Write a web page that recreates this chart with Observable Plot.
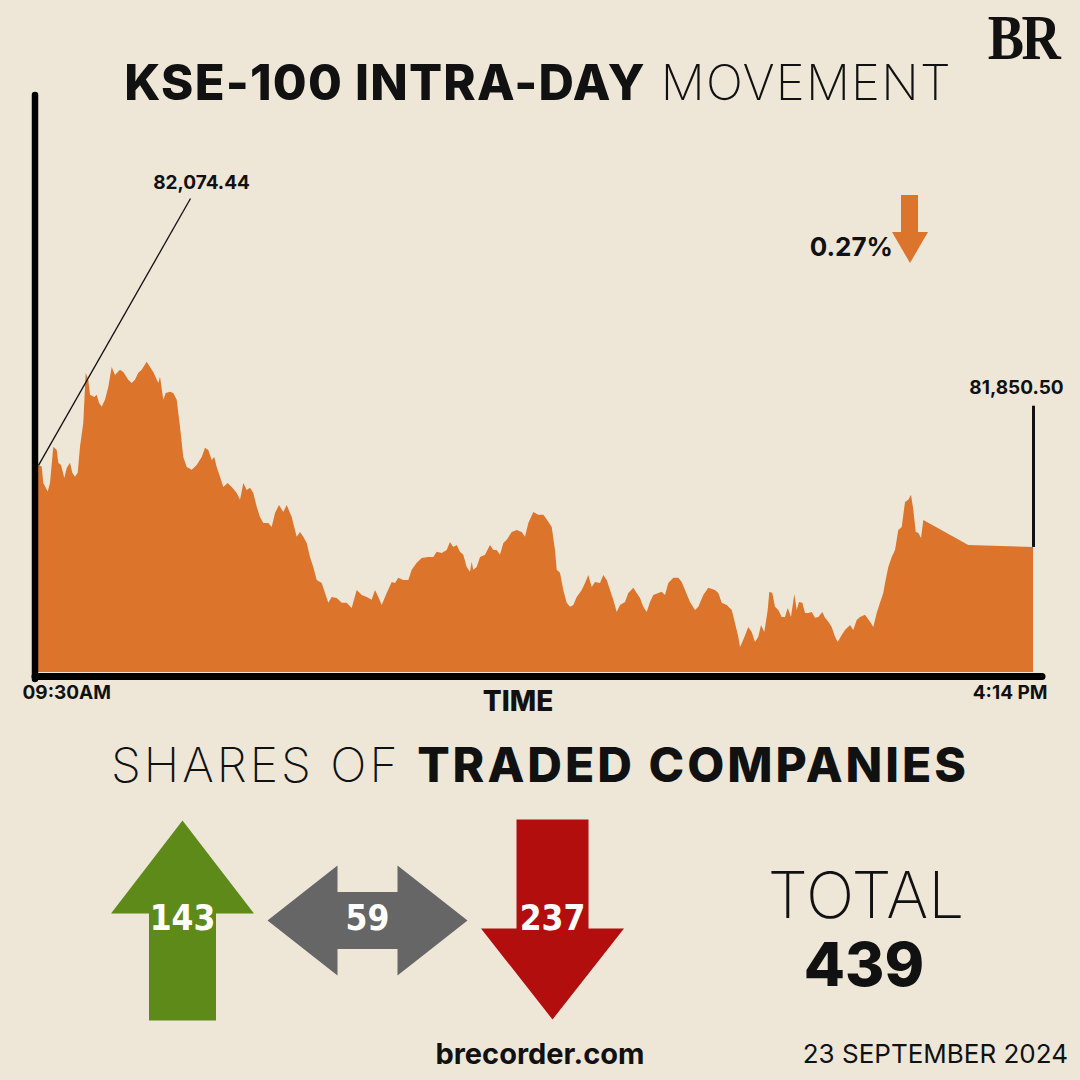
<!DOCTYPE html>
<html>
<head>
<meta charset="utf-8">
<script src="https://cdn.jsdelivr.net/npm/d3@7"></script>
<script src="https://cdn.jsdelivr.net/npm/@observablehq/plot@0.6"></script>
<style>
  html, body { margin: 0; padding: 0; background: #EEE7D8; }
  #page { position: relative; width: 1080px; height: 1080px; background: #EEE7D8; overflow: hidden; }
  #page > * { position: absolute; left: 0; }
</style>
</head>
<body>
<div id="page"></div>
<script>
// ---------------- DATA ----------------
const times = [
"09:30:00","09:31:30","09:32:09","09:33:56","09:34:52","09:36:13","09:37:36","09:38:15","09:39:20","09:40:41",
"09:41:39","09:43:00","09:43:56","09:45:01","09:46:07","09:47:03","09:48:23","09:49:22","09:50:25","09:51:07",
"09:52:52","09:53:50","09:54:46","09:55:52","09:57:12","09:58:32","09:59:55","10:01:16","10:03:17","10:04:38",
"10:06:40","10:08:02","10:09:23","10:10:43","10:12:06","10:14:08","10:15:29","10:16:49","10:18:51","10:19:32",
"10:20:53","10:21:51","10:23:36","10:24:56","10:26:19","10:27:40","10:29:00","10:30:23","10:32:25","10:34:26",
"10:36:28","10:37:49","10:39:09","10:40:32","10:41:35","10:42:33","10:43:54","10:45:14","10:47:01","10:48:39",
"10:50:41","10:52:01","10:53:22","10:54:44","10:56:05","10:57:25","10:58:48","11:00:08","11:01:29","11:03:31",
"11:04:53","11:06:14","11:07:51","11:09:36","11:10:59","11:13:01","11:15:02","11:16:23","11:17:43","11:19:06",
"11:20:26","11:21:47","11:23:10","11:25:11","11:26:32","11:27:52","11:29:15","11:31:17","11:33:19","11:35:20",
"11:37:22","11:39:24","11:41:26","11:43:28","11:45:29","11:46:50","11:48:10","11:49:33","11:51:35","11:53:37",
"11:54:57","11:56:17","11:58:19","12:00:21","12:01:44","12:03:46","12:05:47","12:08:28","12:10:30","12:11:53",
"12:13:55","12:15:56","12:17:17","12:18:37","12:20:00","12:21:20","12:22:41","12:24:04","12:25:24","12:26:05",
"12:26:44","12:28:07","12:29:28","12:31:30","12:33:32","12:34:52","12:36:15","12:37:35","12:38:56","12:40:19",
"12:42:20","12:44:22","12:46:24","12:47:44","12:49:05","12:51:07","12:53:08","12:55:10","12:55:52","12:57:12",
"12:58:35","12:59:55","13:00:37","13:01:57","13:03:17","13:04:40","13:06:01","13:07:21","13:08:44","13:10:46",
"13:12:06","13:13:26","13:14:49","13:16:10","13:18:11","13:19:32","13:20:55","13:22:15","13:23:35","13:24:58",
"13:26:19","13:28:20","13:29:41","13:31:43","13:33:05","13:34:26","13:35:46","13:37:09","13:38:29","13:39:50",
"13:41:52","13:43:14","13:44:35","13:45:55","13:47:57","13:49:59","13:51:22","13:52:42","13:54:44","13:56:46",
"13:58:06","14:00:08","14:02:10","14:04:53","14:06:13","14:07:36","14:09:38","14:11:40","14:13:00","14:14:20",
"14:15:02","14:16:22","14:18:24","14:19:47","14:21:07","14:22:28","14:23:34","14:24:54","14:26:17","14:26:56",
"14:28:09","14:29:14","14:30:35","14:31:58","14:33:18","14:34:24","14:35:44","14:37:05","14:38:04","14:38:59",
"14:40:20","14:41:26","14:42:46","14:44:09","14:45:29","14:46:50","14:48:27","14:49:33","14:50:53","14:52:16",
"14:53:37","14:54:42","14:56:20","14:57:40","14:59:42","15:01:02","15:02:25","15:03:46","15:05:47","15:07:49",
"15:09:10","15:10:32","15:11:53","15:13:13","15:13:55","15:15:15","15:16:38","15:17:58","15:19:19","15:20:41",
"15:22:02","15:23:22","15:24:28","15:25:24","15:26:23","15:27:26","15:28:32","15:29:28","15:47:44","16:14:00"
];
const values = [
82074.44,82070,82025,82002,82025,82124,82115,82080,82074,82039,
82066,82080,82053,82042,82053,82124,82189,82326,82307,82266,
82260,82266,82244,82233,82252,82287,82342,82320,82334,82328,
82307,82298,82307,82326,82334,82356,82342,82328,82298,82315,
82252,82271,82274,82271,82252,82178,82096,82069,82061,82074,
82096,82121,82115,82088,82096,82069,82042,82014,82025,82014,
81998,81979,82025,82006,82012,81998,81960,81932,81916,81916,
81905,81943,81965,81946,81965,81932,81878,81891,81878,81861,
81823,81796,81760,81752,81725,81698,81714,81711,81698,81698,
81684,81733,81719,81714,81706,81733,81714,81692,81725,81755,
81752,81766,81760,81760,81788,81807,81820,81823,81823,81837,
81834,81842,81864,81850,81856,81837,81829,81796,81782,81810,
81788,81796,81823,81829,81856,81842,81842,81829,81861,81870,
81891,81897,81891,81878,81916,81946,81938,81938,81932,81919,
81905,81842,81788,81780,81733,81698,81687,81692,81714,81733,
81752,81774,81741,81755,81752,81774,81760,81733,81706,81673,
81692,81700,81725,81739,81725,81711,81687,81673,81700,81719,
81725,81728,81719,81752,81766,81766,81755,81733,81700,81678,
81687,81719,81739,81733,81725,81698,81692,81678,81643,81605,
81577,81597,81632,81618,81591,81605,81637,81618,81678,81728,
81725,81687,81678,81659,81659,81684,81659,81722,81678,81700,
81698,81670,81670,81673,81657,81659,81673,81657,81646,81632,
81605,81591,81610,81624,81637,81624,81651,81659,81665,81646,
81632,81670,81698,81725,81752,81796,81823,81842,81897,81905,
81973,81979,81993,81952,81891,81889,81875,81924,81856,81850.50
];
const openValue = 82074.44;   // start label
const closeValue = 81850.50;  // closing label
const startLabel = "09:30AM";
const endLabel = "4:14 PM";

const categories = ["Advanced", "Unchanged", "Declined"];
const counts = [143, 59, 237];
const categoryColors = ["#5E8A1A", "#666666", "#B20E0E"];

const dateLabel = "23 SEPTEMBER 2024";

// ---------------- HELPERS ----------------
const ORANGE = "#DC742C";
const FONT = "Inter, 'Open Sans', sans-serif";
function parseTime(s) {
  const [h, m, sec = 0] = s.split(":").map(Number);
  return new Date(Date.UTC(2024, 8, 23, h, m, sec));
}
const series = times.map((t, i) => ({t: parseTime(t), v: values[i]}));
const t0 = series[0].t, t1 = series[series.length - 1].t;
const yBase = 81509, yTop = 83098;
const fmt = d3.format(",.2f");
const page = document.getElementById("page");

// ---------------- MAIN AREA CHART ----------------
const openAnno = [{x1: t0, y1: openValue, x2: parseTime("10:31:43"), y2: 82803, tx: parseTime("10:36:11"), ty: 82845, label: fmt(openValue)}];
const closeAnno = [{x: t1, y1: closeValue, y2: 82236, tx: parseTime("16:07:06"), ty: 82285, label: fmt(closeValue)}];

const main = Plot.plot({
  width: 1080, height: 720,
  marginLeft: 38, marginRight: 47, marginTop: 90, marginBottom: 48,
  style: {background: "transparent", fontFamily: FONT, overflow: "visible"},
  x: {type: "utc", domain: [t0, t1], axis: null},
  y: {domain: [yBase, yTop], axis: null},
  marks: [
    Plot.areaY(series, {x: "t", y1: yBase, y2: "v", fill: ORANGE}),
    Plot.link(openAnno, {x1: "x1", y1: "y1", x2: "x2", y2: "y2", stroke: "#111", strokeWidth: 1.3}),
    Plot.text(openAnno, {x: "tx", y: "ty", text: "label", fontSize: 19, fontWeight: 700, fill: "#111"}),
    Plot.ruleX(closeAnno, {x: "x", y1: "y1", y2: "y2", stroke: "#111", strokeWidth: 3}),
    Plot.text(closeAnno, {x: "tx", y: "ty", text: "label", fontSize: 19, fontWeight: 700, fill: "#111"}),
    Plot.ruleX([t0], {stroke: "#000", strokeWidth: 6.5, dx: -3.5, insetTop: 5, insetBottom: -7, strokeLinecap: "round"}),
    Plot.ruleY([yBase], {stroke: "#000", strokeWidth: 7, dy: 4, insetLeft: -3, insetRight: -9, strokeLinecap: "round"}),
    Plot.text([{t: t0, label: startLabel}], {x: "t", text: "label", frameAnchor: "bottom", textAnchor: "start", dx: -16, dy: 26, fontSize: 19, fontWeight: 700, fill: "#111"}),
    Plot.text([{t: t1, label: endLabel}], {x: "t", text: "label", frameAnchor: "bottom", textAnchor: "end", dx: 14, dy: 26, fontSize: 19, fontWeight: 700, fill: "#111"})
  ]
});
main.style.top = "0px";
page.appendChild(main);

// ---------------- ARROWS (counts) ----------------
const arrowSymbols = [
  {draw(c) { c.moveTo(0,-100); c.lineTo(71.5,-7); c.lineTo(33.5,-7); c.lineTo(33.5,100); c.lineTo(-33.5,100); c.lineTo(-33.5,-7); c.lineTo(-71.5,-7); c.closePath(); }},
  {draw(c) { c.moveTo(-100,0); c.lineTo(-30,-55); c.lineTo(-30,-28.5); c.lineTo(30,-28.5); c.lineTo(30,-55); c.lineTo(100,0); c.lineTo(30,55); c.lineTo(30,28.5); c.lineTo(-30,28.5); c.lineTo(-30,55); c.closePath(); }},
  {draw(c) { c.moveTo(-36,-101); c.lineTo(36,-101); c.lineTo(36,8); c.lineTo(71.5,8); c.lineTo(0,99); c.lineTo(-71.5,8); c.lineTo(-36,8); c.closePath(); }}
];
const rows = categories.map((c, i) => ({cat: c, n: counts[i]}));
const arrows = Plot.plot({
  width: 1080, height: 240, margin: 0,
  style: {background: "transparent", overflow: "visible"},
  x: {type: "point", domain: categories, range: [182, 552], padding: 0, axis: null},
  marks: [
    ...rows.map((r, i) => Plot.dot([r], {x: "cat", symbol: arrowSymbols[i], fill: categoryColors[i], stroke: null})),
    Plot.text(rows, {x: "cat", text: "n", fill: "white", fontSize: 35, fontWeight: 700, dy: -2,
      fontFamily: "'DejaVu Sans Condensed', 'Liberation Sans Narrow', sans-serif"})
  ]
});
arrows.style.top = "800px";
page.appendChild(arrows);

// ---------------- TEXT OVERLAY ----------------
const total = d3.sum(counts);
const pct = Math.abs((closeValue - openValue) / openValue * 100).toFixed(2) + "%";
const svg = d3.create("svg").attr("width", 1080).attr("height", 1080)
  .style("top", "0px").style("pointer-events", "none").style("font-family", FONT);

const title = svg.append("text").attr("x", 538).attr("y", 100).attr("text-anchor", "middle")
  .attr("font-size", 49).attr("letter-spacing", 1.2).attr("fill", "#111");
title.append("tspan").attr("font-weight", 800).text("KSE-100 INTRA-DAY");
title.append("tspan").attr("font-weight", 200).text(" MOVEMENT");

svg.append("text").attr("x", 1023).attr("y", 59).attr("text-anchor", "middle")
  .attr("font-family", "'Liberation Serif', 'DejaVu Serif', serif").attr("font-weight", 700)
  .attr("font-size", 64).attr("fill", "#111")
  .attr("transform", "translate(1023,0) scale(0.85,1) translate(-1023,0)")
  .attr("letter-spacing", -3).text("BR");

svg.append("text").attr("x", 893).attr("y", 256).attr("text-anchor", "end")
  .attr("font-size", 26).attr("font-weight", 700).attr("fill", "#111").text(pct);
svg.append("path").attr("d", "M901,195 L918,195 L918,232 L928,232 L910,263 L892,232 L901,232 Z").attr("fill", ORANGE);

svg.append("text").attr("x", 518).attr("y", 711).attr("text-anchor", "middle")
  .attr("font-size", 28).attr("font-weight", 800).attr("fill", "#111").text("TIME");

const shares = svg.append("text").attr("x", 540).attr("y", 782).attr("text-anchor", "middle")
  .attr("font-size", 48).attr("letter-spacing", 3).attr("fill", "#111");
shares.append("tspan").attr("font-weight", 200).text("SHARES OF ");
shares.append("tspan").attr("font-weight", 800).text("TRADED COMPANIES");

svg.append("text").attr("x", 866).attr("y", 918).attr("text-anchor", "middle")
  .attr("font-size", 64).attr("font-weight", 200).attr("fill", "#111").text("TOTAL");
svg.append("text").attr("x", 864).attr("y", 986).attr("text-anchor", "middle")
  .attr("font-size", 60).attr("font-weight", 800).attr("fill", "#111").text(total);

svg.append("text").attr("x", 540).attr("y", 1064).attr("text-anchor", "middle")
  .attr("font-size", 29).attr("font-weight", 700).attr("fill", "#111").text("brecorder.com");
svg.append("text").attr("x", 1068).attr("y", 1063).attr("text-anchor", "end")
  .attr("font-size", 26).attr("font-weight", 400).attr("fill", "#111").text(dateLabel);

page.appendChild(svg.node());
</script>
</body>
</html>
